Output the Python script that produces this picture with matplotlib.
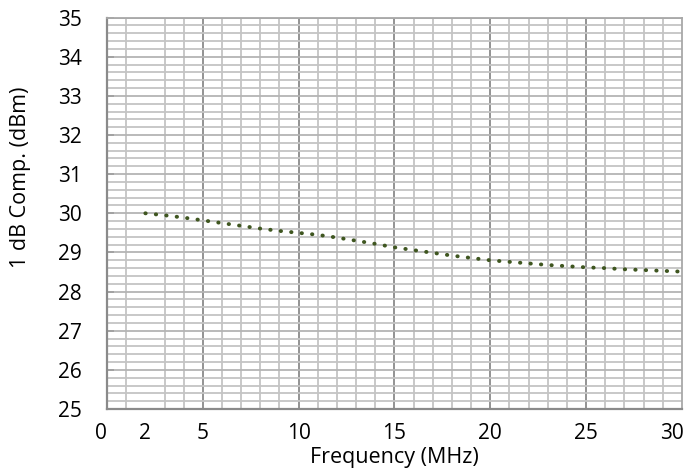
import matplotlib
matplotlib.use("Agg")
import matplotlib.pyplot as plt
import matplotlib.transforms as mtransforms
from matplotlib.ticker import MultipleLocator, FixedLocator

freq_mhz = [2, 3, 4, 5, 6, 7, 8, 9, 10, 11, 12, 13, 14, 15, 16, 17, 18, 19, 20,
            21, 22, 23, 24, 25, 26, 27, 28, 29, 30]
comp_dbm = [30.00, 29.95, 29.89, 29.82, 29.75, 29.68, 29.61, 29.55, 29.50, 29.45,
            29.38, 29.30, 29.22, 29.13, 29.06, 28.99, 28.92, 28.86, 28.80, 28.76,
            28.72, 28.68, 28.65, 28.62, 28.60, 28.57, 28.55, 28.53, 28.51]
x_ticks = [0, 2, 5, 10, 15, 20, 25, 30]
y_ticks = [25, 26, 27, 28, 29, 30, 31, 32, 33, 34, 35]
x_major_grid = [5, 10, 15, 20, 25]

plt.rcParams['font.family'] = ['Open Sans', 'DejaVu Sans']

fig = plt.figure(figsize=(6.86, 4.74), dpi=100)
ax = fig.add_axes([0.156, 0.137, 0.838, 0.826])

ax.set_xlim(0, 30)
ax.set_ylim(25, 35)

# grid
ax.xaxis.set_minor_locator(MultipleLocator(1))
ax.yaxis.set_minor_locator(MultipleLocator(0.2))
ax.grid(which='minor', color='#c4c4c4', linewidth=1.3, zorder=0)
ax.grid(which='major', axis='y', color='#b4b4b4', linewidth=1.3, zorder=0.5)
for xv in x_major_grid:
    ax.axvline(xv, color='#8a8a8a', linewidth=1.3, zorder=0.6)

ax.plot(freq_mhz, comp_dbm, linestyle=(0, (0.1, 2.6)), dash_capstyle='round',
        linewidth=2.8, color='#3f5620', zorder=3)

ax.xaxis.set_major_locator(FixedLocator(x_ticks))
ax.yaxis.set_major_locator(FixedLocator(y_ticks))
ax.set_xticklabels([str(v) for v in x_ticks])
ax.set_yticklabels([str(v) for v in y_ticks])
ax.tick_params(axis='both', which='both', labelsize=15, colors='#000000')
ax.tick_params(axis='x', which='both', length=0, pad=10)
ax.tick_params(axis='y', which='major', direction='in', length=5, width=1.3,
               color='#a0a0a0', pad=18)
ax.tick_params(axis='y', which='minor', length=0)

# nudge end labels inward like the reference
labels = ax.get_xticklabels()
labels[0].set_transform(labels[0].get_transform() +
                        mtransforms.ScaledTranslation(-6 / 100, 0, fig.dpi_scale_trans))
labels[-1].set_transform(labels[-1].get_transform() +
                         mtransforms.ScaledTranslation(-10 / 100, 0, fig.dpi_scale_trans))

for side in ['left', 'bottom']:
    ax.spines[side].set_color('#8a8a8a')
    ax.spines[side].set_linewidth(1.6)
for side in ['right', 'top']:
    ax.spines[side].set_color('#a8a8a8')
    ax.spines[side].set_linewidth(1.3)

ax.set_xlabel('Frequency (MHz)', fontsize=15.5, labelpad=2)
fig.text(21 / 686, 1 - 177 / 474, '1 dB Comp. (dBm)', fontsize=15.5, rotation=90,
         ha='center', va='center')

fig.savefig('out.png', dpi=100)
